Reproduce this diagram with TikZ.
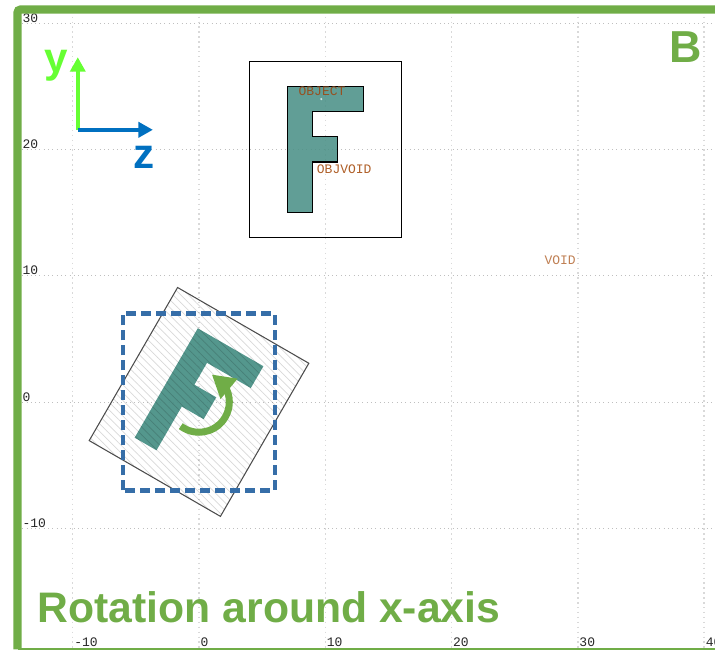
\documentclass[tikz,border=0pt]{standalone}
\usepackage{fontspec}
\setmainfont{Liberation Sans}
\setmonofont{Liberation Mono}
\usetikzlibrary{arrows.meta,bending,patterns.meta}
\definecolor{framegreen}{RGB}{112,173,71}
\definecolor{objteal}{RGB}{75,145,135}
\definecolor{dashblue}{RGB}{54,110,168}
\definecolor{axisgreen}{RGB}{102,255,51}
\definecolor{axisblue}{RGB}{0,112,192}
\definecolor{tagbrown}{RGB}{175,95,40}
\newcommand{\Fshape}{(7,15) -- (7,25) -- (13,25) -- (13,23) -- (9,23) -- (9,21)
  -- (11,21) -- (11,19) -- (9,19) -- (9,15) -- cycle}

\begin{document}
\begin{tikzpicture}[x=.2526cm,y=.2526cm,line cap=butt,
  gridh/.style={gray!50,line width=.45pt,dotted},
  gridv/.style={gray!30,line width=.8pt,dotted},
  ticklabel/.style={font=\ttfamily\fontsize{7.4}{8}\selectfont,text=black!85,inner sep=0pt},
  taglabel/.style={font=\ttfamily\fontsize{7.4}{8}\selectfont,text=tagbrown,inner sep=0pt},
  biglabel/.style={font=\bfseries\fontsize{24}{28}\selectfont,inner sep=0pt},
  axisarrow/.style={-{Triangle[length=.29cm,width=.3cm]},line width=.085cm}]
 \useasboundingbox (-15.76,-19.71) rectangle (40.86,31.83);
 \foreach \yy in {-10,0,10,20,30}
  \draw[gridh] (-14,\yy) -- (40.86,\yy);
 \foreach \xx in {-10,0,...,40}
  \draw[gridv] (\xx,30.9) -- (\xx,-19.5);
 \foreach \yy in {-10,0,10,20,30}
  \node[ticklabel,anchor=west] (ytick\yy) at (-14,\yy+.4) {\yy};
 \foreach \xx in {-10,0,...,40}
  \node[ticklabel,anchor=west] (xtick\xx) at (\xx+.1,-19.05) {\xx};
 \draw[black,line width=.55pt] (4,13) rectangle (16,27);
 \draw[black,line width=.6pt,fill=objteal,fill opacity=.88] \Fshape;
 \fill[white!75!objteal] (9.68,23.98) circle (.09);
 \node[taglabel,text=tagbrown!85!black] (object) at (9.74,24.6) {OBJECT};
 \node[taglabel] (objvoid) at (11.5,18.45) {OBJVOID};
 \node[taglabel,opacity=.8] (void) at (28.6,11.25) {VOID};
 \begin{scope}[rotate=-30,shift={(-10,-20)}]
  \fill[objteal,fill opacity=.95] \Fshape;
  \fill[pattern={Lines[angle=-45,distance=.11cm,line width=.4pt]},pattern color=black,
   opacity=.15] (4,13) rectangle (16,27);
  \draw[black!70,line width=.6pt] (4,13) rectangle (16,27);
 \end{scope}
 \draw[dashblue,line width=.09cm,dash pattern=on .2cm off .1cm] (-6,-7) rectangle (6,7);
 \coordinate (rotstart) at (-127:2.4);
 \draw[framegreen,line width=.14cm,-{Triangle[length=.45cm,width=.5cm,flex=.7]}]
  (rotstart) arc[start angle=-127,end angle=65,radius=2.4];
 \coordinate (axorigin) at (-9.6,21.55);
 \coordinate (ytip) at (-9.6,27.3);
 \coordinate (ztip) at (-3.65,21.55);
 \draw[axisarrow,axisgreen] (axorigin) -- (ytip);
 \draw[axisarrow,axisblue] (axorigin) -- (ztip);
 \node[biglabel,text=axisgreen,anchor=base west] (ylabel) at (-12.27,26.05) {y};
 \node[biglabel,text=axisblue,anchor=base west] (zlabel) at (-5.2,18.5) {z};
 \node[biglabel,text=framegreen,font=\bfseries\fontsize{25.5}{28}\selectfont,anchor=base west]
  (panel) at (37.2,26.9) {B};
 \node[biglabel,text=framegreen,font=\bfseries\fontsize{24.3}{28}\selectfont,anchor=base west]
  (caption) at (-12.8,-17.5) {Rotation around x-axis};
 \draw[framegreen,line width=.166cm,rounded corners=.06cm]
  (-14.37,-19.6) -- (-14.37,31.07) -- (40.86,31.07);
 \draw[framegreen,line width=.04cm] (-14.37,-19.6) -- (40.86,-19.6);
\end{tikzpicture}
\end{document}
